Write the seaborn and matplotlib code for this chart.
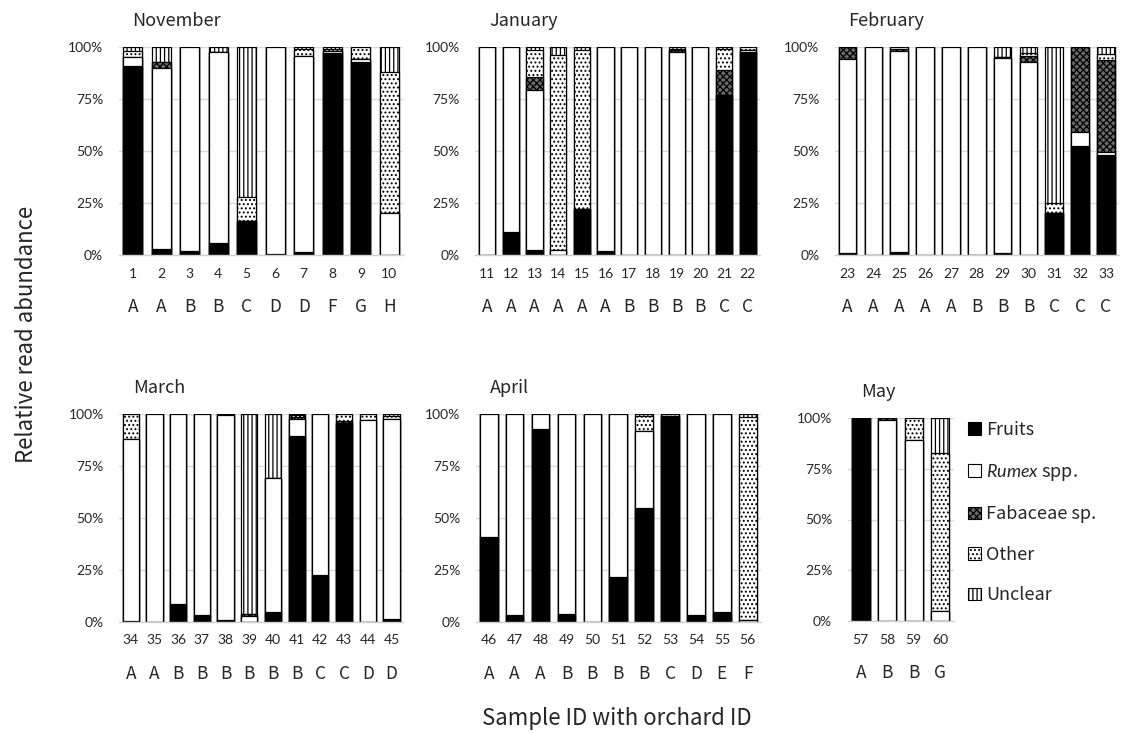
import matplotlib
matplotlib.use("Agg")
import matplotlib.pyplot as plt
import matplotlib.transforms as mtransforms
from matplotlib.patches import Patch
import seaborn as sns
import pandas as pd

# ---- data (percent of reads per sample) ----
months = ["November", "January", "February", "March", "April", "May"]
month_sizes = [10, 12, 11, 12, 11, 4]
sample_ids = list(range(1, 61))
orchards = ["A", "A", "B", "B", "C", "D", "D", "F", "G", "H",
            "A", "A", "A", "A", "A", "A", "B", "B", "B", "B", "C", "C",
            "A", "A", "A", "A", "A", "B", "B", "B", "C", "C", "C",
            "A", "A", "B", "B", "B", "B", "B", "B", "C", "C", "D", "D",
            "A", "A", "A", "B", "B", "B", "B", "C", "D", "E", "F",
            "A", "B", "B", "G"]

fruits = [91, 3, 2, 6, 16.5, 0.5, 1.6, 97, 93, 0,
          0, 11.2, 2.2, 0, 22.3, 2, 0, 0, 0, 0, 77, 97.5,
          1, 0, 1.5, 0, 0, 0, 1, 0, 20, 52.3, 48,
          0.5, 0, 8.5, 3.4, 0.8, 0, 5, 89.6, 22.8, 95.5, 0, 1.5,
          41.1, 3.4, 92.8, 4, 0, 21.8, 55, 98.5, 3.3, 4.8, 0,
          100, 0, 0, 0]
rumex = [4, 87, 98, 91.6, 0, 99.5, 94, 1.3, 1, 20,
         100, 88.8, 77.3, 2.6, 0, 98, 100, 100, 97.5, 100, 0, 1,
         93.4, 100, 96.5, 100, 100, 100, 93.5, 93, 0, 6.8, 1.3,
         87.5, 100, 91.5, 96.6, 98.7, 3, 64.2, 8, 77.2, 0, 97, 96,
         58.9, 96.6, 7.2, 96, 100, 78.2, 36.7, 0.5, 96.7, 95.2, 1,
         0, 99.2, 89, 4.8]
fabaceae = [0, 3, 0, 0, 0, 0, 0, 0, 0, 0,
            0, 0, 5.9, 0, 0, 0, 0, 0, 1, 0, 12, 0,
            5.6, 0, 1, 0, 0, 0, 0.5, 2.5, 0, 40.9, 44.5,
            0, 0, 0, 0, 0, 1, 0, 0.8, 0, 1, 0, 0,
            0, 0, 0, 0, 0, 0, 0, 0, 0, 0, 0,
            0, 0.8, 0, 0]
other = [3, 0, 0, 0, 11.5, 0, 3.2, 0.5, 6, 68,
         0, 0, 13, 93.4, 76.1, 0, 0, 0, 0.5, 0, 10, 1.5,
         0, 0, 1, 0, 0, 0, 0, 1.5, 5, 0, 2.6,
         12, 0, 0, 0, 0.5, 0, 0, 1, 0, 3.5, 3, 1.5,
         0, 0, 0, 0, 0, 0, 7.2, 1, 0, 0, 97.5,
         0, 0, 11, 77.9]
unclear = [2, 7, 0, 2.4, 72, 0, 1.2, 1.2, 0, 12,
           0, 0, 1.6, 4, 1.6, 0, 0, 0, 1, 0, 1, 0,
           0, 0, 0, 0, 0, 0, 5, 3, 75, 0, 3.6,
           0, 0, 0, 0, 0, 96, 30.8, 0.6, 0, 0, 0, 1,
           0, 0, 0, 0, 0, 0, 1.1, 0, 0, 0, 1.5,
           0, 0, 0, 17.3]

# ---- styling ----
sns.set_theme(style="white")
plt.rcParams["font.family"] = ["Noto Sans CJK JP", "DejaVu Sans"]
plt.rcParams["hatch.linewidth"] = 0.9
plt.rcParams["mathtext.fontset"] = "custom"
plt.rcParams["mathtext.rm"] = "Noto Sans"
plt.rcParams["mathtext.it"] = "Lato:italic"

layers = ["Fruits", "Rumex", "Fabaceae", "Other", "Unclear"]
fills = {"Fruits": "black", "Rumex": "white", "Fabaceae": "#6a6a6a",
         "Other": "white", "Unclear": "white"}
hatches = {"Fruits": None, "Rumex": None, "Fabaceae": "xxxxx",
           "Other": "....", "Unclear": "||||"}
legend_labels = ["Fruits", r"$\it{Rumex}$ spp.", "Fabaceae sp.", "Other", "Unclear"]

df = pd.DataFrame({"sample": [str(s) for s in sample_ids], "orchard": orchards,
                   "Fruits": fruits, "Rumex": rumex, "Fabaceae": fabaceae,
                   "Other": other, "Unclear": unclear})
df["month"] = [m for m, n in zip(months, month_sizes) for _ in range(n)]

W, H = 1137, 733
fig = plt.figure(figsize=(W / 100, H / 100), dpi=100)

# panel boxes in pixels: left, top, width, height
boxes = {"November": (118.5, 47, 285, 208),
         "January": (475.2, 47, 284.4, 208),
         "February": (834.6, 47, 284.3, 208),
         "March": (118.9, 414, 284.4, 208),
         "April": (475.8, 414, 284.9, 208),
         "May": (847.5, 418, 106, 203)}

for month in months:
    left, top, w, h = boxes[month]
    ax = fig.add_axes([left / W, (H - top - h) / H, w / W, h / H])
    sub = df[df["month"] == month].reset_index(drop=True)
    order = list(sub["sample"])

    # stacked bars: draw cumulative totals from the top layer down
    for k in range(len(layers) - 1, -1, -1):
        name = layers[k]
        sub["cum"] = sub[layers[:k + 1]].sum(axis=1)
        sns.barplot(data=sub, x="sample", y="cum", order=order, ax=ax,
                    color=fills[name], edgecolor="black", linewidth=0.9,
                    hatch=hatches[name], width=0.68, saturation=1,
                    errorbar=None)

    ax.set_xlim(-0.5, len(order) - 0.5)
    ax.set_ylim(0, 100)
    ax.set_yticks([0, 25, 50, 75, 100])
    ax.set_yticklabels(["0%", "25%", "50%", "75%", "100%"],
                       fontsize=10, family=["Lato", "DejaVu Sans"])
    ax.set_xticks(range(len(order)))
    ax.set_xticklabels(order, fontsize=10, family=["Lato", "DejaVu Sans"])
    ax.tick_params(axis="y", length=0, pad=11)
    ax.tick_params(axis="x", length=0, pad=9)
    ax.set_xlabel("")
    ax.set_ylabel("")
    ax.set_axisbelow(True)
    ax.yaxis.grid(True, color="#d9d9d9", linewidth=1)
    ax.xaxis.grid(False)
    for side in ["left", "right", "top"]:
        ax.spines[side].set_visible(False)
    ax.spines["bottom"].set_color("#d0d0d0")
    ax.spines["bottom"].set_linewidth(1)

    # orchard IDs under the sample numbers
    trans = mtransforms.blended_transform_factory(ax.transData, ax.transAxes)
    for i, orc in enumerate(sub["orchard"]):
        ax.text(i, -52 / h, orc, transform=trans, ha="center", va="center",
                fontsize=12.5)

    fig.text((left + 14) / W, 1 - (top - 26) / H, month, ha="left",
             va="center", fontsize=13)

fig.text(27 / W, 1 - 334 / H, "Relative read abundance", rotation=90,
         ha="center", va="center", fontsize=16)
fig.text(617 / W, 1 - 718 / H, "Sample ID with orchard ID", ha="center",
         va="center", fontsize=16)

handles = [Patch(facecolor=fills[n], edgecolor="black", hatch=hatches[n],
                 linewidth=0.8) for n in layers]
fig.legend(handles, legend_labels, loc="upper left",
           bbox_to_anchor=(968 / W, 1 - 421 / H), frameon=False,
           fontsize=13, handlelength=0.7, handleheight=0.7,
           handletextpad=0.3, labelspacing=1.25, borderpad=0,
           borderaxespad=0)

fig.savefig("out.png", dpi=100)
